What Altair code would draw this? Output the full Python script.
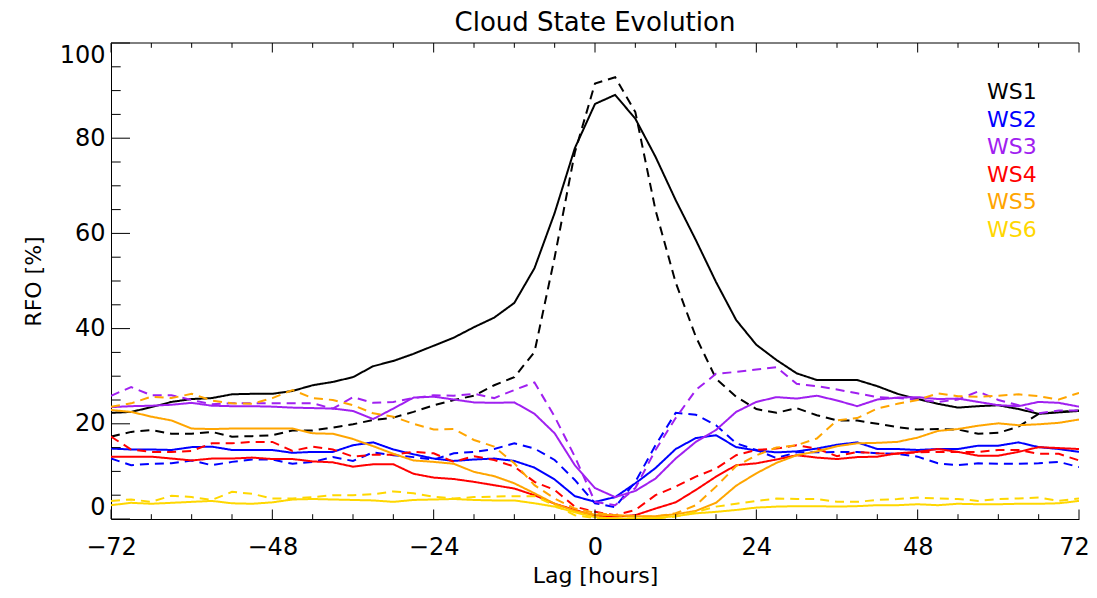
import altair as alt
import pandas as pd

lags = list(range(-72, 73, 3))

ws1_solid = [22.3, 22.5, 23.5, 24.6, 25.2, 25.4, 26.2, 26.3, 26.3, 26.9, 28.1, 28.8, 29.8, 32.1, 33.2, 34.7, 36.4, 38.1, 40.3, 42.3, 45.4, 52.7, 64.3, 77.9, 87.2, 89.1, 84.1, 76.1, 67.0, 58.6, 49.8, 41.8, 36.6, 33.4, 30.6, 29.2, 29.2, 29.2, 27.9, 26.3, 25.2, 24.2, 23.4, 23.7, 23.9, 23.1, 22.1, 22.4, 22.7]
ws1_dash = [17.3, 18.3, 18.7, 17.9, 17.9, 18.3, 17.3, 17.4, 17.6, 18.6, 18.6, 19.2, 19.9, 20.8, 21.3, 22.5, 23.9, 25.0, 25.9, 28.1, 29.8, 35.1, 55.0, 77.0, 91.5, 92.8, 85.5, 64.9, 49.7, 38.3, 29.5, 25.7, 23.1, 22.3, 23.3, 21.8, 20.7, 20.7, 20.0, 19.3, 18.8, 18.9, 18.8, 17.9, 18.1, 19.4, 22.1, 22.5, 22.8]
ws2_solid = [14.8, 14.6, 14.6, 14.5, 15.1, 15.2, 14.5, 14.5, 14.5, 13.9, 14.1, 14.1, 15.5, 16.1, 14.6, 13.6, 12.7, 12.2, 12.5, 12.7, 12.2, 10.8, 8.3, 4.8, 3.6, 4.6, 7.5, 10.7, 14.7, 17.0, 17.6, 15.1, 14.4, 14.0, 14.2, 14.8, 15.6, 16.1, 14.7, 14.7, 14.5, 14.7, 14.7, 15.4, 15.4, 16.1, 15.1, 14.7, 14.1]
ws2_dash = [12.7, 11.3, 11.6, 11.7, 12.3, 11.3, 12.0, 12.5, 12.5, 11.6, 12.0, 13.0, 12.2, 14.0, 13.4, 13.0, 12.5, 13.8, 14.1, 14.7, 15.9, 14.8, 12.4, 8.2, 3.3, 2.5, 7.8, 15.5, 22.3, 21.9, 19.7, 15.9, 14.5, 12.8, 14.0, 14.0, 14.1, 14.1, 13.8, 13.7, 13.1, 11.7, 11.3, 11.7, 11.6, 11.6, 11.7, 12.0, 10.9]
ws3_solid = [23.5, 23.7, 23.8, 24.0, 24.4, 23.8, 23.7, 23.7, 23.6, 23.4, 23.3, 23.2, 22.7, 21.0, 23.2, 25.5, 25.7, 25.1, 24.5, 24.4, 24.5, 22.1, 18.0, 11.3, 6.5, 4.6, 5.9, 8.5, 12.7, 16.2, 18.7, 22.5, 24.6, 25.6, 25.3, 25.9, 24.9, 23.7, 25.1, 25.5, 25.6, 25.2, 25.3, 24.6, 23.9, 23.7, 24.6, 24.4, 23.6]
ws3_dash = [25.9, 27.7, 26.0, 26.0, 25.0, 24.1, 24.3, 24.3, 24.3, 24.3, 24.3, 23.2, 25.6, 24.4, 24.6, 25.4, 26.0, 25.9, 26.3, 25.4, 27.1, 28.7, 21.5, 13.1, 3.6, 2.9, 6.5, 14.5, 21.2, 27.1, 30.5, 30.9, 31.4, 31.9, 28.4, 27.9, 27.2, 26.4, 25.6, 25.4, 25.1, 24.6, 25.1, 26.8, 25.0, 23.9, 22.2, 22.8, 22.8]
ws4_solid = [13.1, 13.1, 13.1, 12.7, 12.3, 12.7, 12.7, 12.9, 12.6, 12.6, 12.1, 11.9, 11.0, 11.5, 11.5, 9.5, 8.7, 8.4, 7.8, 7.1, 6.4, 5.0, 3.2, 1.9, 0.7, 0.5, 0.8, 2.2, 3.5, 6.1, 8.9, 11.3, 11.7, 12.5, 13.4, 12.9, 12.6, 13.0, 13.1, 13.8, 14.1, 14.7, 14.1, 13.3, 13.3, 14.1, 15.1, 14.9, 14.7]
ws4_dash = [17.3, 14.6, 14.1, 14.1, 14.3, 15.9, 15.9, 16.2, 16.2, 14.3, 15.2, 14.6, 13.1, 13.5, 13.5, 14.1, 13.8, 12.0, 13.2, 12.4, 11.0, 7.8, 6.1, 2.6, 1.5, 0.8, 1.9, 5.0, 6.8, 8.9, 10.6, 13.4, 14.5, 14.8, 15.5, 14.8, 13.2, 14.1, 13.8, 13.7, 14.0, 14.1, 14.1, 14.1, 14.5, 14.5, 13.7, 13.7, 12.3]
ws5_solid = [22.9, 22.5, 21.5, 20.7, 19.0, 18.9, 19.0, 19.0, 19.0, 19.0, 18.0, 17.9, 16.8, 15.3, 13.7, 12.3, 12.0, 11.6, 9.9, 9.0, 7.5, 5.4, 3.2, 1.7, 0.9, 0.8, 0.6, 0.6, 1.0, 1.7, 3.4, 7.0, 9.6, 11.8, 13.4, 14.2, 15.3, 15.9, 16.0, 16.2, 17.1, 18.5, 18.9, 19.6, 20.1, 19.7, 19.9, 20.2, 20.9]
ws5_dash = [23.6, 24.3, 25.7, 25.4, 26.3, 24.9, 24.3, 24.2, 25.4, 27.1, 25.4, 25.0, 23.9, 22.2, 21.5, 20.0, 18.8, 18.9, 16.6, 15.2, 11.7, 7.1, 4.3, 2.2, 1.3, 0.8, 0.5, 0.5, 1.2, 2.9, 6.8, 11.1, 13.4, 15.0, 15.5, 16.9, 20.7, 21.2, 23.2, 24.2, 25.0, 26.4, 25.8, 25.7, 25.9, 26.2, 25.8, 25.1, 26.5]
ws6_solid = [2.9, 3.4, 3.2, 3.4, 3.6, 3.8, 3.3, 3.2, 3.5, 4.1, 4.2, 4.1, 4.0, 3.9, 3.6, 4.0, 4.1, 4.2, 4.0, 3.9, 3.9, 3.3, 2.6, 1.4, 0.4, 0.1, 0.1, 0.2, 0.6, 1.2, 1.5, 1.9, 2.4, 2.6, 2.7, 2.7, 2.6, 2.7, 2.9, 2.9, 3.1, 2.9, 3.2, 3.1, 3.1, 3.2, 3.2, 3.3, 3.8]
ws6_dash = [3.8, 4.1, 3.6, 4.9, 4.6, 4.0, 5.7, 5.3, 4.3, 4.3, 4.6, 5.0, 5.0, 5.2, 5.8, 5.4, 4.7, 4.3, 4.6, 4.7, 4.8, 4.8, 2.9, 0.8, 0.2, 0.1, 0.1, 0.1, 0.5, 1.5, 2.6, 3.2, 3.8, 4.3, 4.2, 4.2, 3.6, 3.6, 4.0, 4.2, 4.5, 4.3, 4.2, 3.8, 4.2, 4.3, 4.5, 3.8, 4.3]

states = ["WS1", "WS2", "WS3", "WS4", "WS5", "WS6"]
colors = ["#000000", "#0000FF", "#A020F0", "#FF0000", "#FFA500", "#FFD700"]
styles = ["solid", "dashed"]

series = {
    ("WS1", "solid"): ws1_solid, ("WS1", "dashed"): ws1_dash,
    ("WS2", "solid"): ws2_solid, ("WS2", "dashed"): ws2_dash,
    ("WS3", "solid"): ws3_solid, ("WS3", "dashed"): ws3_dash,
    ("WS4", "solid"): ws4_solid, ("WS4", "dashed"): ws4_dash,
    ("WS5", "solid"): ws5_solid, ("WS5", "dashed"): ws5_dash,
    ("WS6", "solid"): ws6_solid, ("WS6", "dashed"): ws6_dash,
}

x_major = [-72, -48, -24, 0, 24, 48, 72]
x_minor = [v for v in range(-72, 73, 6) if v not in x_major]
y_major = [0, 20, 40, 60, 80, 100]
y_minor = [v for v in range(0, 101, 5) if v not in y_major]

rows = []
for (ws, st), vals in series.items():
    for lag, v in zip(lags, vals):
        rows.append({"lag": lag, "rfo": v, "ws": ws, "style": st, "key": ws + "_" + st})
df = pd.DataFrame(rows)

FONT = "DejaVu Sans"
W, H = 968, 476

xscale = alt.Scale(domain=[-72, 72], nice=False, zero=False)
yscale = alt.Scale(domain=[0, 100], nice=False, zero=False)

lines = alt.Chart(df).mark_line(strokeWidth=2, clip=True).encode(
    x=alt.X("lag:Q", scale=xscale,
            axis=alt.Axis(values=x_major, title="Lag [hours]", ticks=False, grid=False,
                          labelFlush=False, labelFontSize=24, labelPadding=16,
                          labelOffset={"condition": {"test": "datum.value == 72", "value": -5}, "value": 0},
                          titleFontSize=22, titlePadding=6, titleFontWeight="normal",
                          domainColor="black", domainWidth=1)),
    y=alt.Y("rfo:Q", scale=yscale,
            axis=alt.Axis(values=y_major, title="RFO [%]", ticks=False, grid=False,
                          labelFlush=True, labelFontSize=24, labelPadding=6,
                          titleFontSize=22, titlePadding=14, titleFontWeight="normal",
                          domainColor="black", domainWidth=1)),
    color=alt.Color("ws:N", scale=alt.Scale(domain=states, range=colors), legend=None),
    strokeDash=alt.StrokeDash("style:N", scale=alt.Scale(domain=styles, range=[[1, 0], [9, 6]]), legend=None),
    detail="key:N",
)

def tick_layer(vals, axis, pos, length):
    d = pd.DataFrame({"v": vals})
    c = alt.Chart(d).mark_rule(color="black", strokeWidth=1)
    if axis == "x":
        if pos == "bottom":
            return c.encode(x=alt.X("v:Q", scale=xscale), y=alt.value(H), y2=alt.value(H - length))
        return c.encode(x=alt.X("v:Q", scale=xscale), y=alt.value(0), y2=alt.value(length))
    return c.encode(y=alt.Y("v:Q", scale=yscale), x=alt.value(0), x2=alt.value(length))

ticks = [
    tick_layer(x_major, "x", "bottom", 9.5), tick_layer(x_minor, "x", "bottom", 4.8),
    tick_layer(x_major, "x", "top", 9.5), tick_layer(x_minor, "x", "top", 4.8),
    tick_layer(y_major, "y", "left", 19), tick_layer(y_minor, "y", "left", 9.7),
]

top_border = alt.Chart(pd.DataFrame({"v": [0]})).mark_rule(color="black", strokeWidth=1).encode(
    x=alt.value(0), x2=alt.value(W), y=alt.value(0)
)

legend_df = pd.DataFrame({"ws": states})
legend = alt.Chart(legend_df).mark_text(align="left", baseline="middle", fontSize=22, font=FONT).encode(
    x=alt.value(876),
    y=alt.Y("ws:N", scale=alt.Scale(domain=states, range=[49, 187], type="point", padding=0), axis=None),
    text="ws:N",
    color=alt.Color("ws:N", scale=alt.Scale(domain=states, range=colors), legend=None),
)

base = alt.layer(lines, *ticks, top_border)
chart = alt.layer(base, legend).resolve_scale(y="independent").properties(
    width=W, height=H,
    title=alt.TitleParams("Cloud State Evolution", fontSize=26, font=FONT, fontWeight="normal",
                          anchor="middle", offset=7),
    autosize=alt.AutoSizeParams(type="none"),
    padding={"left": 103, "top": 35, "right": 10, "bottom": 71},
).configure(font=FONT).configure_view(stroke=None).configure_axis(
    labelFont=FONT, titleFont=FONT, labelColor="black", titleColor="black"
)

chart.save("out.html", embed_options={"renderer": "svg", "actions": False})
